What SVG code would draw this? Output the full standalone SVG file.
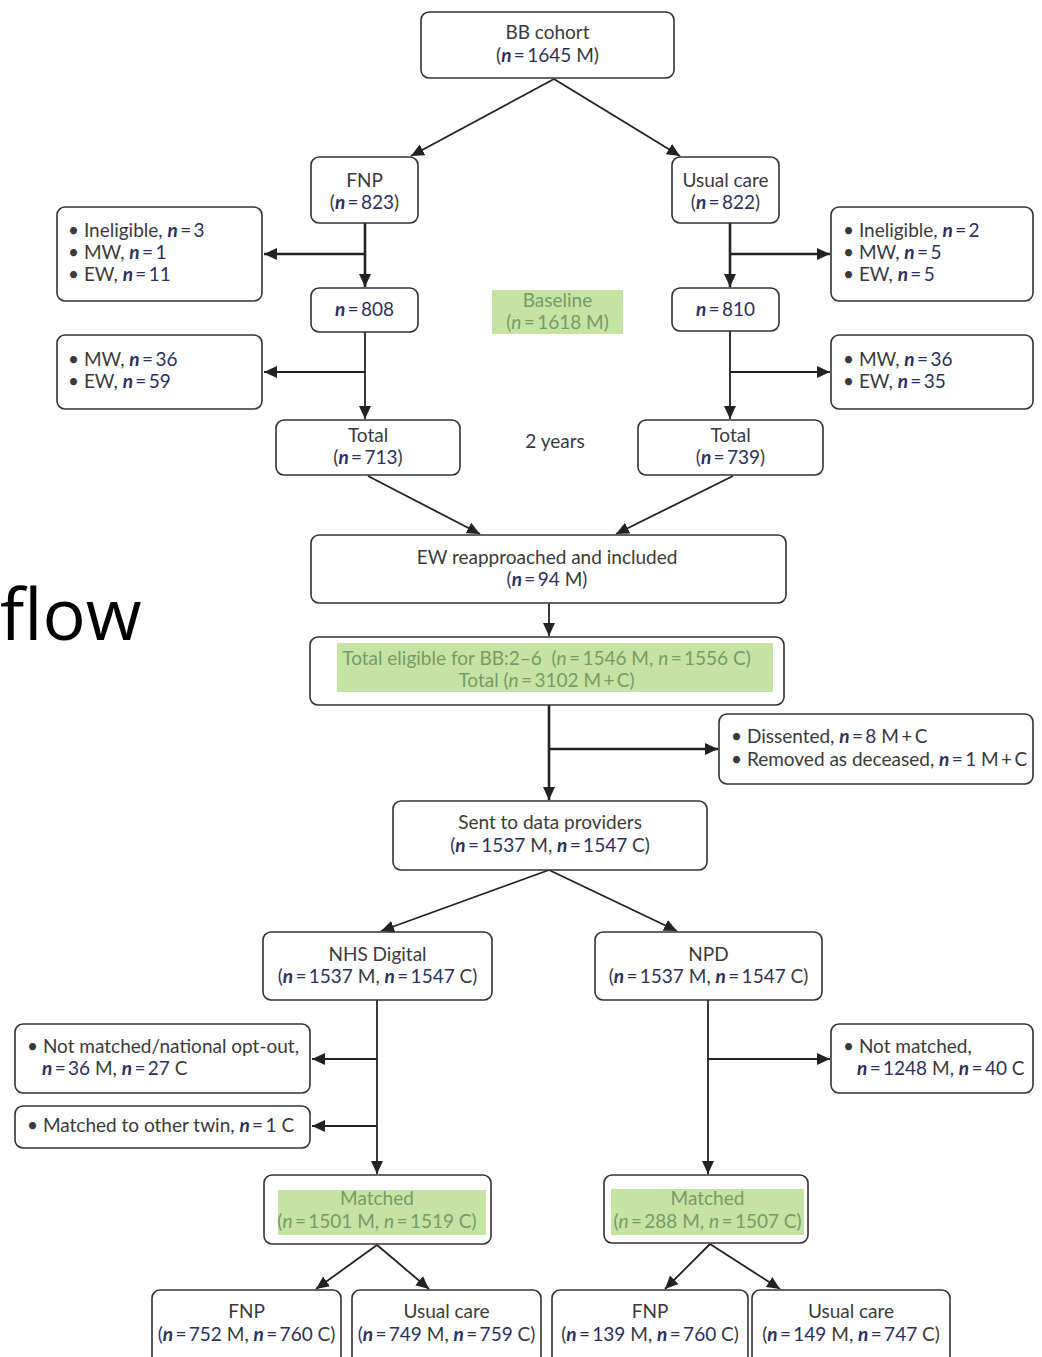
<svg xmlns="http://www.w3.org/2000/svg" width="1042" height="1357" viewBox="0 0 1042 1357">
<style>
.box{fill:#fff;stroke:#333;stroke-width:1.6}
.hl{fill:#c5e4a3}
.t{font-family:Lato,"Liberation Sans",sans-serif;font-size:19px;fill:#3a3a3a}
.c{text-anchor:middle}
.i{font-style:italic;font-weight:700;fill:#2c2f5e}
.d{fill:#2c2f5e}
.g{fill:#789a68}
.g .i,.g .d{fill:#789a68;font-weight:400}
.ln{stroke:#222;stroke-width:1.8;fill:none}
.br{stroke:#222;stroke-width:2.6;fill:none}
</style>
<defs>
<marker id="ah" markerUnits="userSpaceOnUse" markerWidth="14" markerHeight="14" refX="13" refY="7" orient="auto">
<path d="M0,1 L13,7 L0,13 z" fill="#222"/>
</marker>
</defs>
<rect width="1042" height="1357" fill="#fff"/>
<text x="0" y="640" style="font-family:'Open Sans','Liberation Sans',sans-serif;font-size:72px;fill:#000">flow</text>

<g id="connectors">
<line class="ln" x1="554" y1="79" x2="411" y2="156" marker-end="url(#ah)"/>
<line class="ln" x1="554" y1="79" x2="680" y2="156" marker-end="url(#ah)"/>
<line class="br" x1="365" y1="223" x2="365" y2="287" marker-end="url(#ah)"/>
<line class="br" x1="365" y1="254" x2="264" y2="254" marker-end="url(#ah)"/>
<line class="br" x1="730" y1="223" x2="730" y2="287" marker-end="url(#ah)"/>
<line class="br" x1="730" y1="254" x2="830" y2="254" marker-end="url(#ah)"/>
<line class="ln" x1="365" y1="332" x2="365" y2="419" marker-end="url(#ah)"/>
<line class="ln" x1="365" y1="372" x2="264" y2="372" marker-end="url(#ah)"/>
<line class="ln" x1="730" y1="331" x2="730" y2="419" marker-end="url(#ah)"/>
<line class="ln" x1="730" y1="372" x2="830" y2="372" marker-end="url(#ah)"/>
<line class="ln" x1="368" y1="476" x2="480" y2="534" marker-end="url(#ah)"/>
<line class="ln" x1="733" y1="476" x2="616" y2="534" marker-end="url(#ah)"/>
<line class="ln" x1="549" y1="603" x2="549" y2="636" marker-end="url(#ah)"/>
<line class="br" x1="549" y1="705" x2="549" y2="800" marker-end="url(#ah)"/>
<line class="br" x1="549" y1="749" x2="718" y2="749" marker-end="url(#ah)"/>
<line class="ln" x1="549" y1="870" x2="381" y2="931" marker-end="url(#ah)"/>
<line class="ln" x1="549" y1="870" x2="677" y2="931" marker-end="url(#ah)"/>
<line class="ln" x1="377" y1="1000" x2="377" y2="1174" marker-end="url(#ah)"/>
<line class="ln" x1="377" y1="1059" x2="312" y2="1059" marker-end="url(#ah)"/>
<line class="ln" x1="377" y1="1126" x2="312" y2="1126" marker-end="url(#ah)"/>
<line class="ln" x1="708" y1="1000" x2="708" y2="1174" marker-end="url(#ah)"/>
<line class="ln" x1="708" y1="1059" x2="830" y2="1059" marker-end="url(#ah)"/>
<line class="ln" x1="377" y1="1245" x2="316" y2="1289" marker-end="url(#ah)"/>
<line class="ln" x1="377" y1="1245" x2="429" y2="1289" marker-end="url(#ah)"/>
<line class="ln" x1="710" y1="1244" x2="665" y2="1289" marker-end="url(#ah)"/>
<line class="ln" x1="710" y1="1244" x2="780" y2="1289" marker-end="url(#ah)"/>
</g>

<g id="bb-cohort">
<rect class="box" x="421" y="12" width="253" height="66" rx="8"/>
<text class="t c" x="547.5" y="39">BB cohort</text>
<text class="t c" x="547.5" y="62">(<tspan class="i">n</tspan><tspan class="d">&#8201;=&#8201;1645</tspan> M)</text>
</g>

<g id="fnp">
<rect class="box" x="311" y="157" width="107" height="66" rx="8"/>
<text class="t c" x="364.5" y="187">FNP</text>
<text class="t c" x="364.5" y="209">(<tspan class="i">n</tspan><tspan class="d">&#8201;=&#8201;823</tspan>)</text>
</g>

<g id="usual-care">
<rect class="box" x="672" y="157" width="107" height="66" rx="8"/>
<text class="t c" x="725.5" y="187">Usual care</text>
<text class="t c" x="725.5" y="209">(<tspan class="i">n</tspan><tspan class="d">&#8201;=&#8201;822</tspan>)</text>
</g>

<g id="excl-left-1">
<rect class="box" x="57" y="207" width="205" height="94" rx="8"/>
<text class="t" x="68" y="237">• Ineligible, <tspan class="i">n</tspan><tspan class="d">&#8201;=&#8201;3</tspan></text>
<text class="t" x="68" y="259">• MW, <tspan class="i">n</tspan><tspan class="d">&#8201;=&#8201;1</tspan></text>
<text class="t" x="68" y="281">• EW, <tspan class="i">n</tspan><tspan class="d">&#8201;=&#8201;11</tspan></text>
</g>

<g id="excl-right-1">
<rect class="box" x="831" y="207" width="202" height="94" rx="8"/>
<text class="t" x="843" y="237">• Ineligible, <tspan class="i">n</tspan><tspan class="d">&#8201;=&#8201;2</tspan></text>
<text class="t" x="843" y="259">• MW, <tspan class="i">n</tspan><tspan class="d">&#8201;=&#8201;5</tspan></text>
<text class="t" x="843" y="281">• EW, <tspan class="i">n</tspan><tspan class="d">&#8201;=&#8201;5</tspan></text>
</g>

<g id="n808">
<rect class="box" x="311" y="288" width="107" height="44" rx="8"/>
<text class="t c" x="364.5" y="316"><tspan class="i">n</tspan><tspan class="d">&#8201;=&#8201;808</tspan></text>
</g>

<g id="n810">
<rect class="box" x="672" y="288" width="107" height="43" rx="8"/>
<text class="t c" x="725.5" y="316"><tspan class="i">n</tspan><tspan class="d">&#8201;=&#8201;810</tspan></text>
</g>

<g id="baseline" class="g">
<rect class="hl" x="492" y="290" width="131" height="44"/>
<text class="t c g" x="557.5" y="307">Baseline</text>
<text class="t c g" x="557.5" y="329">(<tspan class="i">n</tspan>&#8201;=&#8201;1618 M)</text>
</g>

<g id="excl-left-2">
<rect class="box" x="57" y="335" width="205" height="74" rx="8"/>
<text class="t" x="68" y="366">• MW, <tspan class="i">n</tspan><tspan class="d">&#8201;=&#8201;36</tspan></text>
<text class="t" x="68" y="388">• EW, <tspan class="i">n</tspan><tspan class="d">&#8201;=&#8201;59</tspan></text>
</g>

<g id="excl-right-2">
<rect class="box" x="831" y="335" width="202" height="74" rx="8"/>
<text class="t" x="843" y="366">• MW, <tspan class="i">n</tspan><tspan class="d">&#8201;=&#8201;36</tspan></text>
<text class="t" x="843" y="388">• EW, <tspan class="i">n</tspan><tspan class="d">&#8201;=&#8201;35</tspan></text>
</g>

<g id="total-left">
<rect class="box" x="276" y="420" width="184" height="55" rx="8"/>
<text class="t c" x="368" y="442">Total</text>
<text class="t c" x="368" y="464">(<tspan class="i">n</tspan><tspan class="d">&#8201;=&#8201;713</tspan>)</text>
</g>

<g id="two-years">
<text class="t c" x="555" y="448">2 years</text>
</g>

<g id="total-right">
<rect class="box" x="638" y="420" width="185" height="55" rx="8"/>
<text class="t c" x="730.5" y="442">Total</text>
<text class="t c" x="730.5" y="464">(<tspan class="i">n</tspan><tspan class="d">&#8201;=&#8201;739</tspan>)</text>
</g>

<g id="ew-reapproached">
<rect class="box" x="311" y="535" width="475" height="68" rx="8"/>
<text class="t c" x="547" y="564">EW reapproached and included</text>
<text class="t c" x="547" y="586">(<tspan class="i">n</tspan><tspan class="d">&#8201;=&#8201;94</tspan> M)</text>
</g>

<g id="total-eligible">
<rect class="box" x="310" y="637" width="474" height="68" rx="8"/>
<rect class="hl" x="337" y="643" width="436" height="49"/>
<text class="t c g" x="546.5" y="665" xml:space="preserve">Total eligible for BB:2–6  (<tspan class="i">n</tspan>&#8201;=&#8201;1546 M, <tspan class="i">n</tspan>&#8201;=&#8201;1556 C)</text>
<text class="t c g" x="546.5" y="687">Total (<tspan class="i">n</tspan>&#8201;=&#8201;3102 M&#8201;+&#8201;C)</text>
</g>

<g id="dissented">
<rect class="box" x="719" y="714" width="314" height="70" rx="8"/>
<text class="t" x="731" y="743">• Dissented, <tspan class="i">n</tspan><tspan class="d">&#8201;=&#8201;8</tspan> M&#8201;+&#8201;C</text>
<text class="t" x="731" y="766">• Removed as deceased, <tspan class="i">n</tspan><tspan class="d">&#8201;=&#8201;1</tspan> M&#8201;+&#8201;C</text>
</g>

<g id="sent-to-data-providers">
<rect class="box" x="393" y="801" width="314" height="69" rx="8"/>
<text class="t c" x="550" y="829">Sent to data providers</text>
<text class="t c" x="550" y="852">(<tspan class="i">n</tspan><tspan class="d">&#8201;=&#8201;1537</tspan> M, <tspan class="i">n</tspan><tspan class="d">&#8201;=&#8201;1547</tspan> C)</text>
</g>

<g id="nhs-digital">
<rect class="box" x="263" y="932" width="229" height="68" rx="8"/>
<text class="t c" x="377.5" y="961">NHS Digital</text>
<text class="t c" x="377.5" y="983">(<tspan class="i">n</tspan><tspan class="d">&#8201;=&#8201;1537</tspan> M, <tspan class="i">n</tspan><tspan class="d">&#8201;=&#8201;1547</tspan> C)</text>
</g>

<g id="npd">
<rect class="box" x="595" y="932" width="227" height="68" rx="8"/>
<text class="t c" x="708.5" y="961">NPD</text>
<text class="t c" x="708.5" y="983">(<tspan class="i">n</tspan><tspan class="d">&#8201;=&#8201;1537</tspan> M, <tspan class="i">n</tspan><tspan class="d">&#8201;=&#8201;1547</tspan> C)</text>
</g>

<g id="not-matched-optout">
<rect class="box" x="15" y="1024" width="295" height="69" rx="8"/>
<text class="t" x="27" y="1053">• Not matched/national opt-out,</text>
<text class="t" x="42" y="1075"><tspan class="i">n</tspan><tspan class="d">&#8201;=&#8201;36</tspan> M, <tspan class="i">n</tspan><tspan class="d">&#8201;=&#8201;27</tspan> C</text>
</g>

<g id="matched-other-twin">
<rect class="box" x="15" y="1106" width="295" height="42" rx="8"/>
<text class="t" x="27" y="1132">• Matched to other twin, <tspan class="i">n</tspan><tspan class="d">&#8201;=&#8201;1</tspan> C</text>
</g>

<g id="not-matched-npd">
<rect class="box" x="831" y="1024" width="202" height="69" rx="8"/>
<text class="t" x="843" y="1053">• Not matched,</text>
<text class="t" x="857" y="1075"><tspan class="i">n</tspan><tspan class="d">&#8201;=&#8201;1248</tspan> M, <tspan class="i">n</tspan><tspan class="d">&#8201;=&#8201;40</tspan> C</text>
</g>

<g id="matched-nhs">
<rect class="box" x="264" y="1175" width="227" height="69" rx="8"/>
<rect class="hl" x="278" y="1190" width="208" height="45"/>
<text class="t c g" x="377" y="1205">Matched</text>
<text class="t c g" x="377" y="1228">(<tspan class="i">n</tspan>&#8201;=&#8201;1501 M, <tspan class="i">n</tspan>&#8201;=&#8201;1519 C)</text>
</g>

<g id="matched-npd">
<rect class="box" x="604" y="1175" width="204" height="68" rx="8"/>
<rect class="hl" x="611" y="1189" width="193" height="46"/>
<text class="t c g" x="707.5" y="1205">Matched</text>
<text class="t c g" x="707.5" y="1228">(<tspan class="i">n</tspan>&#8201;=&#8201;288 M, <tspan class="i">n</tspan>&#8201;=&#8201;1507 C)</text>
</g>

<g id="fnp-nhs">
<rect class="box" x="152" y="1290" width="189" height="80" rx="8"/>
<text class="t c" x="246.5" y="1318">FNP</text>
<text class="t c" x="246.5" y="1341">(<tspan class="i">n</tspan><tspan class="d">&#8201;=&#8201;752</tspan> M, <tspan class="i">n</tspan><tspan class="d">&#8201;=&#8201;760</tspan> C)</text>
</g>

<g id="uc-nhs">
<rect class="box" x="352" y="1290" width="189" height="80" rx="8"/>
<text class="t c" x="446.5" y="1318">Usual care</text>
<text class="t c" x="446.5" y="1341">(<tspan class="i">n</tspan><tspan class="d">&#8201;=&#8201;749</tspan> M, <tspan class="i">n</tspan><tspan class="d">&#8201;=&#8201;759</tspan> C)</text>
</g>

<g id="fnp-npd">
<rect class="box" x="552" y="1290" width="196" height="80" rx="8"/>
<text class="t c" x="650" y="1318">FNP</text>
<text class="t c" x="650" y="1341">(<tspan class="i">n</tspan><tspan class="d">&#8201;=&#8201;139</tspan> M, <tspan class="i">n</tspan><tspan class="d">&#8201;=&#8201;760</tspan> C)</text>
</g>

<g id="uc-npd">
<rect class="box" x="752" y="1290" width="198" height="80" rx="8"/>
<text class="t c" x="851" y="1318">Usual care</text>
<text class="t c" x="851" y="1341">(<tspan class="i">n</tspan><tspan class="d">&#8201;=&#8201;149</tspan> M, <tspan class="i">n</tspan><tspan class="d">&#8201;=&#8201;747</tspan> C)</text>
</g>
</svg>
